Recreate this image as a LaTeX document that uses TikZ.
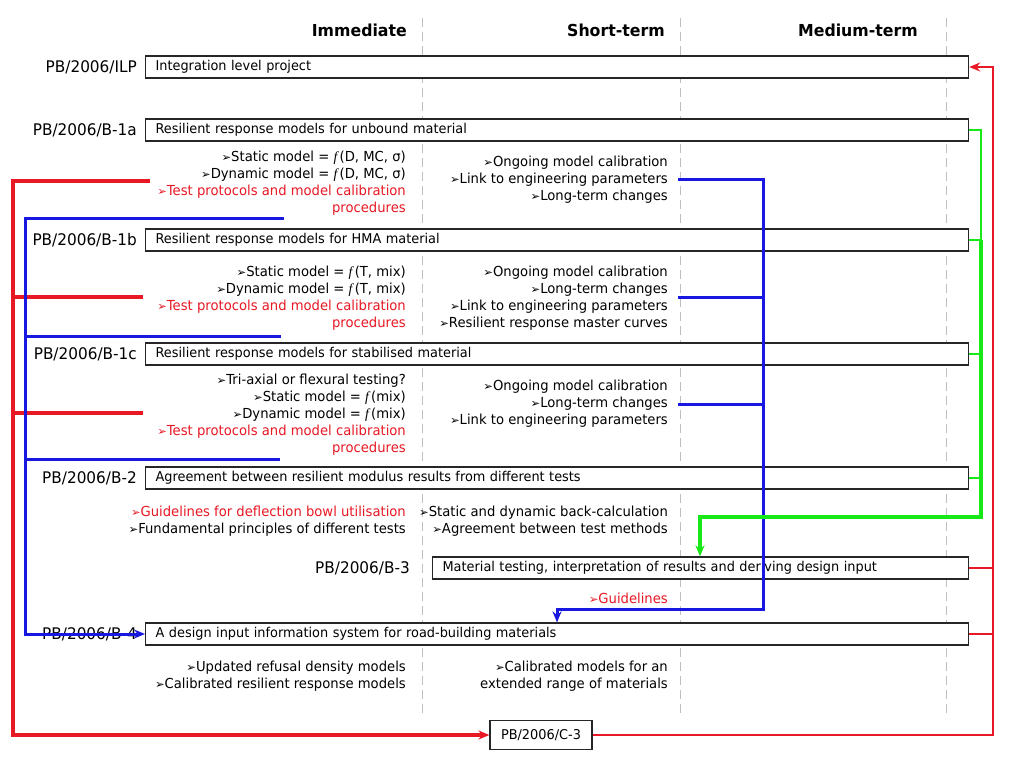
\documentclass[tikz,border=0pt]{standalone}
\usepackage{fontspec}
\setmainfont{DejaVu Sans}[FakeStretch=0.955]
\newfontfamily\serf{Liberation Serif}
\newfontfamily\symf{DejaVu Sans}
\usetikzlibrary{arrows.meta}
\definecolor{myred}{RGB}{232,24,36}
\definecolor{myblue}{RGB}{24,24,224}
\definecolor{mygreen}{RGB}{24,232,24}
\newcommand{\bul}{{\symf\fontsize{11.5}{11.5}\selectfont ➢}}
\newcommand{\fn}{{\serf\itshape f\,}}
\newcommand{\rt}[1]{\textcolor{myred}{#1}}
\begin{document}
\begin{tikzpicture}[x=1pt,y=-1pt,
  pbox/.style={draw=black!85, line width=1.2pt, fill=white, minimum height=22pt,
    inner xsep=10pt, inner ysep=0pt, anchor=west, text width=#1, align=left,
    font=\fontsize{13.5}{16}\selectfont, text height=10pt, text depth=3pt},
  lab/.style={anchor=east, font=\fontsize{16}{19}\selectfont, inner sep=0pt},
  blk/.style={align=right, anchor=north east, inner sep=0pt, font=\fontsize{13.8}{17}\selectfont},
  hdr/.style={anchor=east, font=\fontsize{16.5}{19}\selectfont\bfseries, inner sep=0pt},
  tl/.style={black!25, dash pattern=on 9pt off 5pt, line width=0.9pt},
  rl/.style={myred, line width=3.2pt},
  bl/.style={myblue, line width=3pt},
  gl/.style={mygreen, line width=4pt},
  gthin/.style={mygreen, line width=2.5pt},
  arr/.style={-{Stealth[length=11pt,width=9pt]}}
]
\useasboundingbox (0,0) rectangle (1024,768);
\fill[white] (0,0) rectangle (1024,768);

% time-line separators
\draw[tl] (422,18) -- (422,715);
\draw[tl] (680,18) -- (680,715);
\draw[tl] (946,18) -- (946,715);

% headers
\node[hdr] (h1) at (407,30) {Immediate};
\node[hdr] (h2) at (665,30) {Short-term};
\node[hdr] (h3) at (918,30) {Medium-term};

% project boxes
\node[pbox=803pt] (ilp) at (145,67) {Integration level project};
\node[pbox=803pt] (b1a) at (145,130) {Resilient response models for unbound material};
\node[pbox=803pt] (b1b) at (145,240) {Resilient response models for HMA material};
\node[pbox=803pt] (b1c) at (145,354) {Resilient response models for stabilised material};
\node[pbox=803pt] (b2) at (145,478) {Agreement between resilient modulus results from different tests};
\node[pbox=516pt] (b3) at (432,568) {Material testing, interpretation of results and deriving design input};
\node[pbox=803pt] (b4) at (145,634) {A design input information system for road-building materials};
\node[draw=black!85, line width=1.2pt, fill=white, minimum width=102pt, minimum height=29pt,
  inner sep=0pt, font=\fontsize{13.5}{16}\selectfont] (c3) at (541,735) {PB/2006/C-3};

% labels
\node[lab] (lilp) at (137,67) {PB/2006/ILP};
\node[lab] (l1a) at (137,130) {PB/2006/B-1a};
\node[lab] (l1b) at (137,240) {PB/2006/B-1b};
\node[lab] (l1c) at (137,354) {PB/2006/B-1c};
\node[lab] (l2) at (137,478) {PB/2006/B-2};
\node[lab] (l3) at (410,568) {PB/2006/B-3};
\node[lab] (l4) at (137,634) {PB/2006/B-4};

% text blocks
\node[blk] (a1) at (406,151) {\bul Static model = \fn(D, MC, σ)\\ \bul Dynamic model = \fn(D, MC, σ)\\ \rt{\bul Test protocols and model calibration}\\ \rt{procedures}};
\node[blk] (s1) at (668,156) {\bul Ongoing model calibration\\ \bul Link to engineering parameters\\ \bul Long-term changes};
\node[blk] (a2) at (406,266) {\bul Static model = \fn(T, mix)\\ \bul Dynamic model = \fn(T, mix)\\ \rt{\bul Test protocols and model calibration}\\ \rt{procedures}};
\node[blk] (s2) at (668,266) {\bul Ongoing model calibration\\ \bul Long-term changes\\ \bul Link to engineering parameters\\ \bul Resilient response master curves};
\node[blk] (a3) at (406,374) {\bul Tri-axial or flexural testing?\\ \bul Static model = \fn(mix)\\ \bul Dynamic model = \fn(mix)\\ \rt{\bul Test protocols and model calibration}\\ \rt{procedures}};
\node[blk] (s3) at (668,380) {\bul Ongoing model calibration\\ \bul Long-term changes\\ \bul Link to engineering parameters};
\node[blk] (a4) at (406,506) {\rt{\bul Guidelines for deflection bowl utilisation}\\ \bul Fundamental principles of different tests};
\node[blk] (s4) at (668,506) {\bul Static and dynamic back-calculation\\ \bul Agreement between test methods};
\node[blk] (gl) at (668,593) {\rt{\bul Guidelines}};
\node[blk] (a5) at (406,661) {\bul Updated refusal density models\\ \bul Calibrated resilient response models};
\node[blk] (s5) at (668,661) {\bul Calibrated models for an\\ extended range of materials};

% free ends
\coordinate (r1) at (150,181);
\coordinate (r2) at (143,297);
\coordinate (r3) at (143,413);
\coordinate (q1) at (284,218);
\coordinate (q2) at (281,336);
\coordinate (q3) at (280,459);
\coordinate (p1) at (678,179);
\coordinate (p2) at (678,297);
\coordinate (p3) at (678,404);
\coordinate (g1) at (557,609);
\coordinate (g2) at (700,517);

% red connectors
\draw[rl, arr] (r1) -- (13,181) |- (c3.west);
\draw[rl] (r2) -- (13,297);
\draw[rl] (r3) -- (13,413);
\draw[rl, line width=2.6pt, arr] (c3.east) -| (993,67) -- (ilp.east);
\draw[rl, line width=2.6pt] (b3.east) -- ++(25,0);
\draw[rl, line width=2.6pt] (b4.east) -- ++(25,0);

% blue connectors
\draw[bl, arr] (q1) -- (25,218) |- (b4.west);
\draw[bl] (q2) -- (25,336);
\draw[bl] (q3) -- (25,459);
\draw[bl, arr] (p1) -- (763,179) |- (g1) -- (g1 |- b4.north);
\draw[bl] (p2) -- (763,297);
\draw[bl] (p3) -- (763,404);

% green connectors
\draw[gthin] (b1a.east) -- (981,130) -- (981,240);
\draw[gl, arr] (981,240) -- (981,517) -- (g2) -- (g2 |- b3.north);
\draw[gthin] (b1b.east) -- (981,240);
\draw[gthin] (b1c.east) -- (981,354);
\draw[gthin] (b2.east) -- (981,478);
\end{tikzpicture}
\end{document}
